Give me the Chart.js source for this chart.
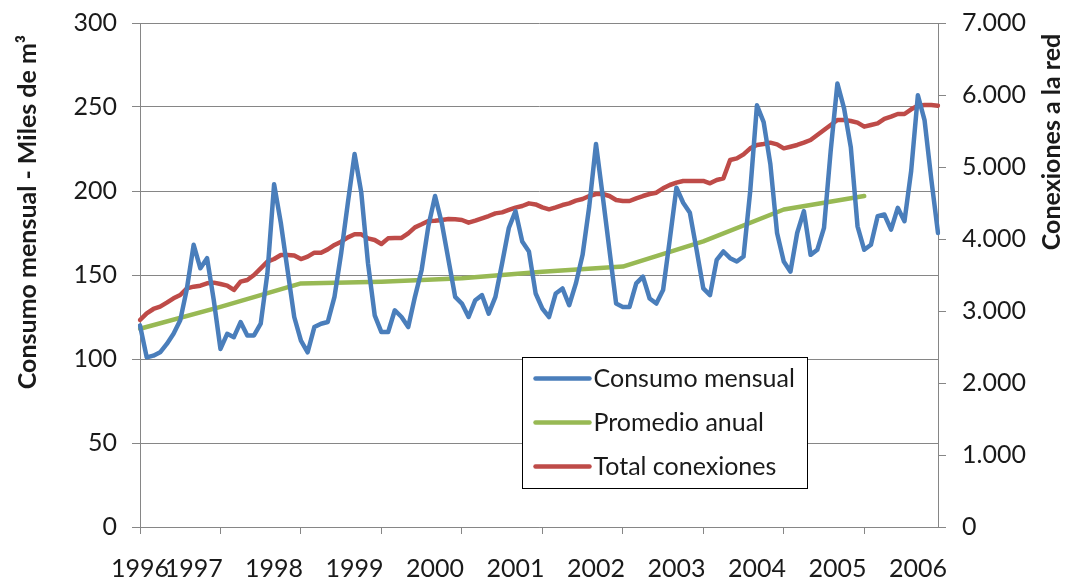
<!DOCTYPE html>
<html>
<head>
<meta charset="utf-8">
<script src="https://cdn.jsdelivr.net/npm/chart.js@4.4.1/dist/chart.umd.min.js"></script>
<style>
  html, body { margin: 0; padding: 0; background: #fff; overflow: hidden; }
  #wrap { width: 1065px; height: 600px; position: relative; }
</style>
</head>
<body>
<div id="wrap"><canvas id="c" width="1065" height="600"></canvas></div>
<script>
// Consumo mensual de agua (miles de m3), un valor por mes
const consumoMensual = [
  120, 101, 102, 104, 109, 115, 123, 142, 168, 154, 160, 135,
  106, 115, 113, 122, 114, 114, 121, 151, 204, 181, 153, 125,
  111, 104, 119, 121, 122, 137, 163, 193, 222, 199, 157, 126,
  116, 116, 129, 125, 119, 137, 153, 179, 197, 181, 159, 137,
  133, 125, 135, 138, 127, 137, 157, 178, 188, 170, 164, 139,
  130, 125, 139, 142, 132, 145, 162, 191, 228, 197, 165, 133,
  131, 131, 145, 149, 136, 133, 141, 171, 202, 193, 187, 165,
  142, 138, 159, 164, 160, 158, 161, 200, 251, 241, 216, 175,
  158, 152, 175, 188, 162, 165, 178, 224, 264, 249, 226, 179,
  165, 168, 185, 186, 177, 190, 182, 212, 257, 242, 207, 175
];

// Total de conexiones a la red, un valor por mes
const totalConexiones = [
  2875, 2968, 3028, 3060, 3116, 3176, 3222, 3315, 3338, 3352, 3384, 3394,
  3375, 3352, 3292, 3407, 3431, 3500, 3593, 3685, 3722, 3778, 3778, 3770,
  3722, 3755, 3810, 3810, 3856, 3917, 3963, 4023, 4065, 4065, 4009, 3986,
  3930, 4009, 4015, 4015, 4079, 4162, 4204, 4250, 4255, 4264, 4278, 4273,
  4264, 4227, 4255, 4287, 4319, 4356, 4370, 4403, 4435, 4458, 4495, 4480,
  4440, 4412, 4440, 4472, 4495, 4532, 4556, 4597, 4625, 4625, 4597, 4542,
  4528, 4528, 4565, 4597, 4625, 4643, 4704, 4750, 4782, 4806, 4806, 4806,
  4806, 4773, 4819, 4843, 5097, 5120, 5176, 5259, 5306, 5319, 5338, 5315,
  5259, 5282, 5306, 5338, 5375, 5444, 5514, 5583, 5653, 5653, 5639, 5616,
  5560, 5583, 5606, 5667, 5699, 5736, 5736, 5801, 5852, 5861, 5861, 5852
];

// Promedio anual del consumo (un valor por año, 1996-2005)
const promedioAnual = [118, 131, 145, 146, 148, 152, 155, 170, 189, 197];

// Rótulos de años del eje horizontal y el mes en que aparece cada uno
const etiquetasAnio = ['1996', '1997', '1998', '1999', '2000', '2001', '2002', '2003', '2004', '2005', '2006'];
const mesEtiqueta   = [0, 8, 20, 32, 44, 56, 68, 80, 92, 104, 116];

const MESES_POR_ANIO = 12;
const categorias = consumoMensual.map((_, i) => 'm' + i);
const promedioPorMes = categorias.map((_, i) =>
  i % MESES_POR_ANIO === 0 && (i / MESES_POR_ANIO) < promedioAnual.length
    ? promedioAnual[i / MESES_POR_ANIO] : null);

const AZUL = '#4a7ebb';
const VERDE = '#98b954';
const ROJO = '#be4b48';
const GRIS = '#868686';
const TEXTO = '#1a1a1a';
const FUENTE = 'Lato';

function miles(v) {
  return String(v).replace(/\B(?=(\d{3})+(?!\d))/g, '.');
}

// Sin relleno extra alrededor de los ejes: el área de trazado queda fija
function sinRelleno(s) {
  s.paddingTop = 0;
  s.paddingBottom = 0;
  s.paddingLeft = 0;
  s.paddingRight = 0;
}

// Títulos de los ejes verticales (ambos leídos de abajo hacia arriba)
const titulosEjes = {
  id: 'titulosEjes',
  afterDraw(chart) {
    const ctx = chart.ctx;
    ctx.save();
    ctx.fillStyle = TEXTO;
    ctx.font = 'bold 25px ' + FUENTE;
    ctx.textAlign = 'center';
    ctx.textBaseline = 'middle';
    const dibujar = (texto, x, y) => {
      ctx.save();
      ctx.translate(x, y);
      ctx.rotate(-Math.PI / 2);
      ctx.fillText(texto, 0, 0);
      ctx.restore();
    };
    dibujar('Consumo mensual - Miles de m³', 28, 212);
    dibujar('Conexiones a la red', 1052, 142);
    ctx.restore();
  }
};

// Leyenda en recuadro dentro del área del gráfico
const leyendaRecuadro = {
  id: 'leyendaRecuadro',
  afterDraw(chart) {
    const ctx = chart.ctx;
    const box = { x: 522.5, y: 357.5, w: 285, h: 131 };
    ctx.save();
    ctx.fillStyle = '#fff';
    ctx.fillRect(box.x, box.y, box.w, box.h);
    ctx.strokeStyle = '#000';
    ctx.lineWidth = 1;
    ctx.strokeRect(box.x, box.y, box.w, box.h);
    ctx.font = '25px ' + FUENTE;
    ctx.textBaseline = 'middle';
    ctx.textAlign = 'left';
    chart.data.datasets.forEach((ds, i) => {
      const cy = box.y + 21 + i * 44;
      ctx.strokeStyle = ds.borderColor;
      ctx.lineWidth = 4.5;
      ctx.lineCap = 'round';
      ctx.beginPath();
      ctx.moveTo(box.x + 13, cy);
      ctx.lineTo(box.x + 67, cy);
      ctx.stroke();
      ctx.fillStyle = TEXTO;
      ctx.fillText(ds.label, box.x + 71, cy);
    });
    ctx.restore();
  }
};

function crear() {
  Chart.defaults.font.family = FUENTE;
  Chart.defaults.color = TEXTO;
  new Chart(document.getElementById('c'), {
    type: 'line',
    data: {
      labels: categorias,
      datasets: [
        { label: 'Consumo mensual', data: consumoMensual, borderColor: AZUL, yAxisID: 'y' },
        { label: 'Promedio anual', data: promedioPorMes, borderColor: VERDE, yAxisID: 'y', spanGaps: true },
        { label: 'Total conexiones', data: totalConexiones, borderColor: ROJO, yAxisID: 'y2' }
      ]
    },
    options: {
      responsive: false,
      animation: false,
      events: [],
      layout: { padding: { top: 23, left: 0, right: 0, bottom: 0 } },
      elements: {
        line: { borderWidth: 4.5, tension: 0, borderCapStyle: 'round', borderJoinStyle: 'round', fill: false },
        point: { radius: 0, hoverRadius: 0 }
      },
      plugins: { legend: { display: false }, tooltip: { enabled: false } },
      scales: {
        x: {
          type: 'category',
          offset: false,
          afterFit(s) { sinRelleno(s); s.height = 600 - 527; },
          border: { display: true, color: GRIS, width: 1 },
          grid: {
            drawOnChartArea: false,
            drawTicks: true,
            tickLength: 7,
            color: (c) => (c.index % MESES_POR_ANIO === 0 ? GRIS : 'rgba(0,0,0,0)')
          },
          ticks: {
            autoSkip: false,
            maxRotation: 0,
            minRotation: 0,
            padding: 20,
            font: { size: 25 },
            callback: (v, i) => {
              const k = mesEtiqueta.indexOf(i);
              return k >= 0 ? etiquetasAnio[k] : '';
            }
          }
        },
        y: {
          position: 'left',
          min: 0, max: 300,
          afterFit(s) { sinRelleno(s); s.width = 140; },
          border: { display: true, color: GRIS, width: 1 },
          grid: { color: GRIS, lineWidth: 1, drawTicks: true, tickLength: 8 },
          ticks: { stepSize: 50, padding: 15, font: { size: 25 } }
        },
        y2: {
          position: 'right',
          min: 0, max: 7000,
          afterFit(s) { sinRelleno(s); s.width = 1065 - 938; },
          border: { display: true, color: GRIS, width: 1 },
          grid: { drawOnChartArea: false, color: GRIS, drawTicks: true, tickLength: 8 },
          ticks: { stepSize: 1000, padding: 16, font: { size: 25 }, callback: (v) => miles(v) }
        }
      }
    },
    plugins: [titulosEjes, leyendaRecuadro]
  });
}

if (document.fonts && document.fonts.load) {
  Promise.all([document.fonts.load('25px Lato'), document.fonts.load('bold 25px Lato')]).then(crear, crear);
} else {
  crear();
}
</script>
</body>
</html>
